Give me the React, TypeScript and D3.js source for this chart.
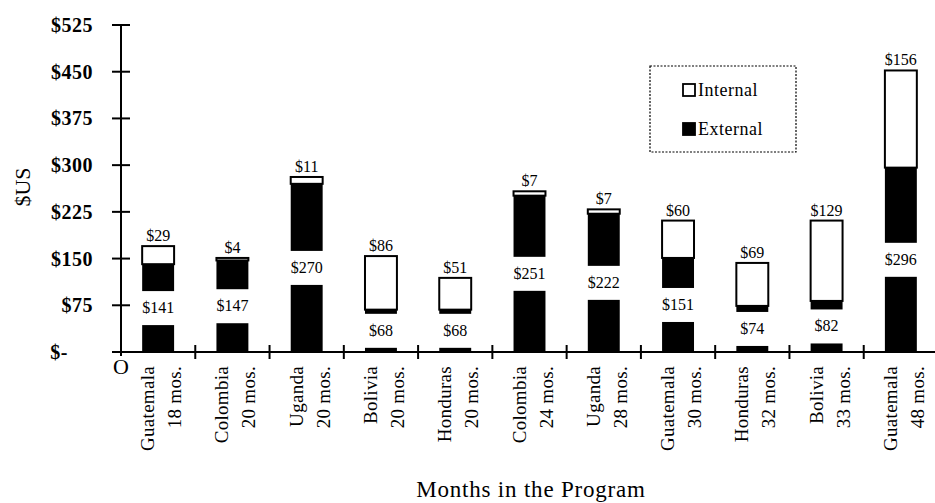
import { useEffect, useRef } from 'react';
import * as d3 from 'd3';

const countries = ["Guatemala", "Colombia", "Uganda", "Bolivia", "Honduras", "Colombia", "Uganda", "Guatemala", "Honduras", "Bolivia", "Guatemala"];
const months = ["18 mos.", "20 mos.", "20 mos.", "20 mos.", "20 mos.", "24 mos.", "28 mos.", "30 mos.", "32 mos.", "33 mos.", "48 mos."];
const external = [141, 147, 270, 68, 68, 251, 222, 151, 74, 82, 296];
const internal = [29, 4, 11, 86, 51, 7, 7, 60, 69, 129, 156];
const yTicks = [0, 75, 150, 225, 300, 375, 450, 525];

const W = 935;
const H = 503;
const FONT = '"Liberation Serif", "Times New Roman", serif';

export default function App() {
  const svgRef = useRef<SVGSVGElement>(null);

  useEffect(() => {
    const svg = d3.select(svgRef.current);
    svg.selectAll("*").remove();

    const x = d3.scaleBand<number>()
      .domain(d3.range(countries.length))
      .range([121, 938])
      .paddingInner(0)
      .paddingOuter(0);
    const y = d3.scaleLinear().domain([0, 525]).range([352, 25]);

    const bw = x.bandwidth();
    const barW = bw * 0.43;
    const boxH = 34;

    const g = svg.append("g");

    // bars
    countries.forEach((c, i) => {
      const cx = x(i)! + bw / 2;
      const ext = external[i];
      const int = internal[i];

      // external segment
      g.append("rect")
        .attr("x", cx - barW / 2)
        .attr("y", y(ext))
        .attr("width", barW)
        .attr("height", y(0) - y(ext))
        .attr("fill", "#000");

      // internal segment
      g.append("rect")
        .attr("x", cx - barW / 2)
        .attr("y", y(ext + int))
        .attr("width", barW)
        .attr("height", y(ext) - y(ext + int))
        .attr("fill", "#fff")
        .attr("stroke", "#000")
        .attr("stroke-width", 2);

      // white box behind the external label
      const midY = y(ext / 2);
      g.append("rect")
        .attr("x", cx - barW / 2 - 1)
        .attr("y", midY - boxH / 2)
        .attr("width", barW + 2)
        .attr("height", boxH)
        .attr("fill", "#fff");

      g.append("text")
        .attr("x", cx)
        .attr("y", midY + 5)
        .attr("text-anchor", "middle")
        .attr("font-family", FONT)
        .attr("font-size", 16)
        .attr("fill", "#000")
        .text("$" + ext);

      g.append("text")
        .attr("x", cx)
        .attr("y", y(ext + int) - 5)
        .attr("text-anchor", "middle")
        .attr("font-family", FONT)
        .attr("font-size", 16)
        .attr("fill", "#000")
        .text("$" + int);

      // category labels (rotated)
      const lines = [c, months[i]];
      lines.forEach((t, k) => {
        g.append("text")
          .attr("transform", `translate(${cx - 4 + k * 27},366) rotate(-90)`)
          .attr("text-anchor", "end")
          .attr("font-family", FONT)
          .attr("font-size", 19)
          .attr("letter-spacing", 0.3)
          .attr("fill", "#000")
          .text(t);
      });
    });

    // y axis
    g.append("line")
      .attr("x1", 121).attr("x2", 121)
      .attr("y1", y(525)).attr("y2", y(0) + 4)
      .attr("stroke", "#000").attr("stroke-width", 2);

    yTicks.forEach(v => {
      g.append("line")
        .attr("x1", 112).attr("x2", 130)
        .attr("y1", y(v)).attr("y2", y(v))
        .attr("stroke", "#000").attr("stroke-width", 2);
      g.append("text")
        .attr("x", v === 0 ? 68 : 93)
        .attr("y", y(v) + 7)
        .attr("text-anchor", "end")
        .attr("font-family", FONT)
        .attr("font-weight", "bold")
        .attr("font-size", 20)
        .attr("letter-spacing", 0.5)
        .attr("fill", "#000")
        .text(v === 0 ? "$-" : "$" + v);
    });

    // x axis
    g.append("line")
      .attr("x1", 121).attr("x2", W)
      .attr("y1", y(0)).attr("y2", y(0))
      .attr("stroke", "#000").attr("stroke-width", 2);

    d3.range(1, countries.length).forEach(i => {
      g.append("line")
        .attr("x1", x(i)!).attr("x2", x(i)!)
        .attr("y1", y(0) - 7).attr("y2", y(0) + 7)
        .attr("stroke", "#000").attr("stroke-width", 2);
    });

    g.append("text")
      .attr("x", 121)
      .attr("y", 374)
      .attr("text-anchor", "middle")
      .attr("font-family", FONT)
      .attr("font-size", 22)
      .attr("fill", "#000")
      .text("O");

    // axis titles
    g.append("text")
      .attr("transform", "translate(30,187) rotate(-90)")
      .attr("text-anchor", "middle")
      .attr("font-family", FONT)
      .attr("font-size", 22)
      .attr("fill", "#000")
      .text("$US");

    g.append("text")
      .attr("x", 531)
      .attr("y", 497)
      .attr("text-anchor", "middle")
      .attr("font-family", FONT)
      .attr("font-size", 23)
      .attr("letter-spacing", 0.8)
      .attr("fill", "#000")
      .text("Months in the Program");

    // legend
    const legend = g.append("g");
    legend.append("rect")
      .attr("x", 650).attr("y", 66)
      .attr("width", 146).attr("height", 86)
      .attr("fill", "none")
      .attr("stroke", "#000")
      .attr("stroke-width", 1.2)
      .attr("stroke-dasharray", "2 1.5");

    [{ name: "Internal", fill: "#fff", yy: 84 }, { name: "External", fill: "#000", yy: 123 }].forEach(d => {
      legend.append("rect")
        .attr("x", 683).attr("y", d.yy)
        .attr("width", 12).attr("height", 12)
        .attr("fill", d.fill)
        .attr("stroke", "#000")
        .attr("stroke-width", 1.8);
      legend.append("text")
        .attr("x", 698).attr("y", d.yy + 12)
        .attr("font-family", FONT)
        .attr("font-size", 18)
        .attr("letter-spacing", 0.5)
        .attr("fill", "#000")
        .text(d.name);
    });
  }, []);

  return (
    <svg
      ref={svgRef}
      width={W}
      height={H}
      style={{ position: 'absolute', left: 0, top: 0, background: '#fff' }}
    />
  );
}
